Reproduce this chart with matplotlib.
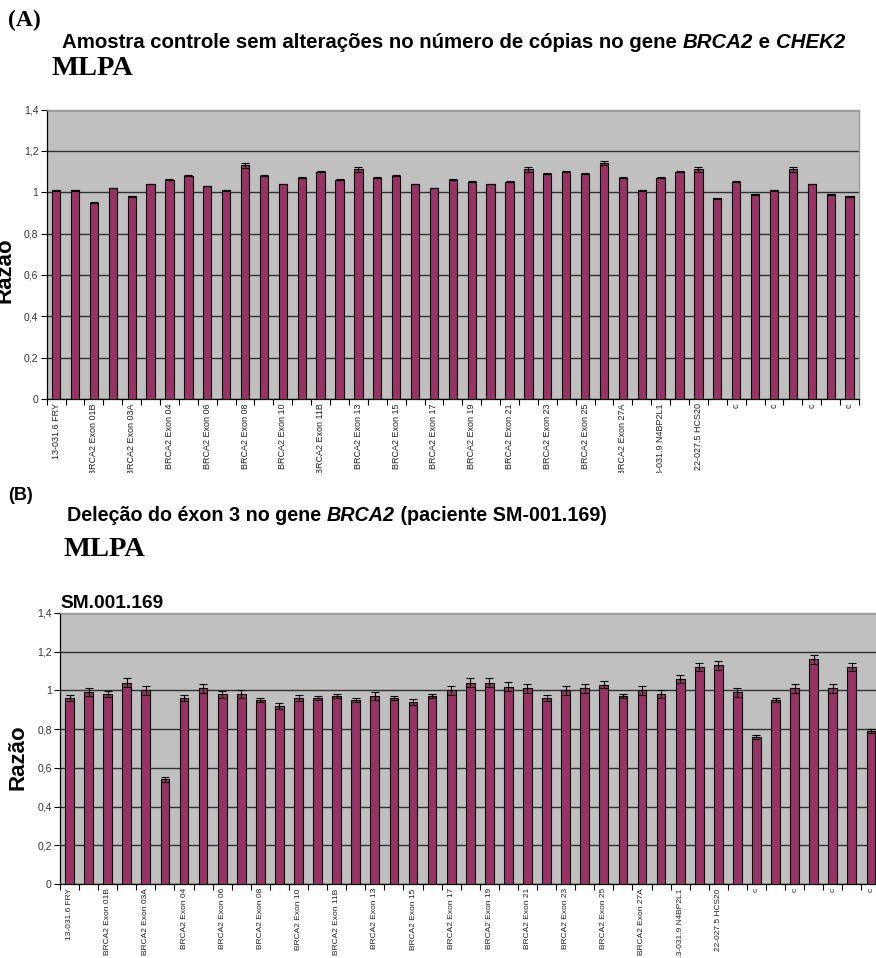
import numpy as np
import matplotlib
matplotlib.use("Agg")
import matplotlib.pyplot as plt
from matplotlib.ticker import FixedLocator, FuncFormatter
from matplotlib.transforms import Bbox, TransformedBbox

W, H = 876, 958

# MLPA probes (P045 BRCA2/CHEK2 kit), in electrophoresis order
categories = [
    "13-031.6 FRY", "BRCA2 Exon 01A", "BRCA2 Exon 01B", "BRCA2 Exon 02",
    "BRCA2 Exon 03A", "BRCA2 Exon 03", "BRCA2 Exon 04", "BRCA2 Exon 05",
    "BRCA2 Exon 06", "BRCA2 Exon 07", "BRCA2 Exon 08", "BRCA2 Exon 09",
    "BRCA2 Exon 10", "BRCA2 Exon 11A", "BRCA2 Exon 11B", "BRCA2 Exon 12",
    "BRCA2 Exon 13", "BRCA2 Exon 14", "BRCA2 Exon 15", "BRCA2 Exon 16",
    "BRCA2 Exon 17", "BRCA2 Exon 18", "BRCA2 Exon 19", "BRCA2 Exon 20",
    "BRCA2 Exon 21", "BRCA2 Exon 22", "BRCA2 Exon 23", "BRCA2 Exon 24",
    "BRCA2 Exon 25", "BRCA2 Exon 26", "BRCA2 Exon 27A", "BRCA2 Exon 27B",
    "13-031.9 N4BP2L1", "c", "22-027.5 HCS20", "c",
    "c", "c", "c", "c", "c", "c", "c",
]

# (A) control sample: copy-number ratios and their deviations
ratio_a = [1.01, 1.01, 0.95, 1.02, 0.98, 1.04, 1.06, 1.08, 1.03, 1.01,
           1.13, 1.08, 1.04, 1.07, 1.10, 1.06, 1.11, 1.07, 1.08, 1.04,
           1.02, 1.06, 1.05, 1.04, 1.05, 1.11, 1.09, 1.10, 1.09, 1.14,
           1.07, 1.01, 1.07, 1.10, 1.11, 0.97, 1.05, 0.99, 1.01, 1.11,
           1.04, 0.99, 0.98]
err_a = [0.002, 0.002, 0.002, 0.002, 0.002, 0.002, 0.002, 0.002, 0.002, 0.002,
         0.013, 0.002, 0.002, 0.002, 0.002, 0.002, 0.012, 0.002, 0.002, 0.002,
         0.002, 0.002, 0.002, 0.002, 0.002, 0.013, 0.002, 0.002, 0.002, 0.010,
         0.002, 0.002, 0.002, 0.002, 0.013, 0.002, 0.002, 0.002, 0.002, 0.013,
         0.002, 0.002, 0.002]

# (B) patient SM-001.169: exon 3 deletion
ratio_b = [0.96, 0.99, 0.98, 1.04, 1.00, 0.54, 0.96, 1.01, 0.98, 0.98,
           0.95, 0.92, 0.96, 0.96, 0.97, 0.95, 0.97, 0.96, 0.94, 0.97,
           1.00, 1.04, 1.04, 1.02, 1.01, 0.96, 1.00, 1.01, 1.03, 0.97,
           1.00, 0.98, 1.06, 1.12, 1.13, 0.99, 0.76, 0.95, 1.01, 1.16,
           1.01, 1.12, 0.79]
err_b = [0.014, 0.021, 0.015, 0.022, 0.022, 0.012, 0.014, 0.022, 0.017, 0.021,
         0.012, 0.014, 0.014, 0.012, 0.010, 0.010, 0.022, 0.012, 0.015, 0.010,
         0.022, 0.022, 0.022, 0.022, 0.021, 0.014, 0.022, 0.021, 0.019, 0.010,
         0.022, 0.021, 0.022, 0.022, 0.022, 0.022, 0.009, 0.009, 0.021, 0.021,
         0.021, 0.022, 0.010]

yticks = [0.0, 0.2, 0.4, 0.6, 0.8, 1.0, 1.2, 1.4]

SANS = "Liberation Sans"
SERIF = "Liberation Serif"
BAR = "#993366"

fig = plt.figure(figsize=(W / 100, H / 100), dpi=100)
fig.patch.set_facecolor("white")
renderer = fig.canvas.get_renderer()


def axes_px(left, top, right, bottom):
    return fig.add_axes([left / W, 1 - bottom / H,
                         (right - left) / W, (bottom - top) / H])


def comma(v, _pos):
    return ("%g" % round(v, 1)).replace(".", ",")


def bar_panel(ax, values, errors, bar_w, xlab_size):
    x = np.arange(len(categories))
    ax.set_facecolor("#C0C0C0")
    ax.bar(x, values, width=bar_w, color=BAR, edgecolor="black",
           linewidth=0.8, zorder=3,
           yerr=errors, error_kw=dict(ecolor="black", elinewidth=0.8,
                                      capsize=2.6, capthick=0.8, zorder=4))
    ax.set_xlim(-0.5, len(categories) - 0.5)
    ax.set_ylim(0, 1.4)
    ax.yaxis.set_major_locator(FixedLocator(yticks))
    ax.yaxis.set_major_formatter(FuncFormatter(comma))
    ax.set_axisbelow(True)
    ax.grid(axis="y", color="#303030", linewidth=1.0)
    ax.tick_params(axis="y", direction="out", length=4, width=0.8,
                   labelsize=7.5, labelcolor="#333333", pad=2,
                   labelfontfamily=SANS)
    ax.set_xticks(x[::2], [categories[i] for i in x[::2]], rotation=90,
                  fontsize=xlab_size, fontfamily=SANS, color="#222222")
    ax.set_xticks(np.arange(-0.5, len(categories)), minor=True)
    ax.tick_params(axis="x", which="major", length=0, pad=3)
    ax.tick_params(axis="x", which="minor", direction="out", length=4,
                   width=0.8)
    for side in ("top", "right"):
        ax.spines[side].set_color("#9a9a9a")
        ax.spines[side].set_linewidth(1.0)
    for side in ("left", "bottom"):
        ax.spines[side].set_color("black")
        ax.spines[side].set_linewidth(0.9)


def rich_text(x_px, y_px, parts, size, family, weight="bold"):
    """Draw consecutive text runs (text, fontstyle) on one baseline."""
    ref = fig.text(0, 0, "|", fontsize=size, family=family, weight=weight)
    bar_w = ref.get_window_extent(renderer).width
    ref.remove()
    x = x_px
    for s, style in parts:
        fig.text(x / W, 1 - y_px / H, s, fontsize=size, family=family,
                 weight=weight, style=style, ha="left", va="baseline")
        probe = fig.text(0, 0, s + "|", fontsize=size, family=family,
                         weight=weight, style=style)
        x += probe.get_window_extent(renderer).width - bar_w
        probe.remove()


# ---------------- panel A ----------------
axA = axes_px(46.7, 109.5, 859, 399)
bar_panel(axA, ratio_a, err_a, 0.44, 6.5)
clipA = TransformedBbox(Bbox([[0, 1 - 473 / H], [1, 1]]), fig.transFigure)
for lab in axA.get_xticklabels():
    lab.set_clip_box(clipA)
    lab.set_clip_on(True)

# ---------------- panel B ----------------
axB = axes_px(60, 613, 880.5, 884)
bar_panel(axB, ratio_b, err_b, 0.46, 6.0)

# y-axis titles
fig.text(5 / W, 1 - 270 / H, "Razão", rotation=90, ha="center", va="center",
         fontsize=16, fontweight="bold", family=SANS)
fig.text(18 / W, 1 - 757 / H, "Razão", rotation=90, ha="center", va="center",
         fontsize=16, fontweight="bold", family=SANS)

# headings
fig.text(8 / W, 1 - 26 / H, "(A)", fontsize=17, fontweight="bold",
         family=SERIF, ha="left", va="baseline")
rich_text(62, 48, [("Amostra controle sem alterações no número de cópias no gene ", "normal"),
                   ("BRCA2", "italic"), (" e ", "normal"), ("CHEK2", "italic")],
          14.7, SANS)
fig.text(52 / W, 1 - 75 / H, "MLPA", fontsize=20.5, fontweight="bold",
         family=SERIF, ha="left", va="baseline")

fig.text(8 / W, 1 - 500 / H, "(B)", fontsize=13, fontweight="bold",
         family=SANS, ha="left", va="baseline")
rich_text(67, 521, [("Deleção do éxon 3 no gene ", "normal"),
                    ("BRCA2", "italic"),
                    (" (paciente SM-001.169)", "normal")],
          14.2, SANS)
fig.text(63 / W, 1 - 556 / H, "MLPA", fontsize=20.5, fontweight="bold",
         family=SERIF, ha="left", va="baseline")
fig.text(60 / W, 1 - 608 / H, "SM.001.169", fontsize=13.8, fontweight="bold",
         family=SANS, ha="left", va="baseline")

fig.savefig("out.png", dpi=100, facecolor="white")
